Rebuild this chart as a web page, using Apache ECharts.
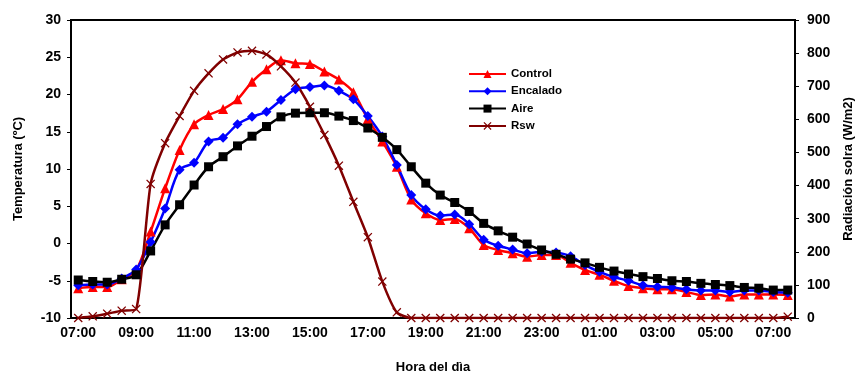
<!DOCTYPE html>
<html>
<head>
<meta charset="utf-8">
<script src="https://cdn.jsdelivr.net/npm/echarts@6/dist/echarts.min.js"></script>
<style>
  html, body { margin: 0; padding: 0; background: #fff; }
  #chart { width: 856px; height: 374px; }
</style>
</head>
<body>
<div id="chart"></div>
<script>
// horas cada 30 min, de 07:00 a 07:30 del día siguiente
var horas = ['07:00', '07:30', '08:00', '08:30', '09:00', '09:30', '10:00', '10:30', '11:00', '11:30',
  '12:00', '12:30', '13:00', '13:30', '14:00', '14:30', '15:00', '15:30', '16:00', '16:30',
  '17:00', '17:30', '18:00', '18:30', '19:00', '19:30', '20:00', '20:30', '21:00', '21:30',
  '22:00', '22:30', '23:00', '23:30', '00:00', '00:30', '01:00', '01:30', '02:00', '02:30',
  '03:00', '03:30', '04:00', '04:30', '05:00', '05:30', '06:00', '06:30', '07:00', '07:30'];

var control = [-6.0, -5.85, -5.85, -4.8, -3.6, 1.6, 7.4, 12.55, 16.0, 17.25,
  18.05, 19.35, 21.7, 23.4, 24.6, 24.2, 24.1, 23.1, 22.0, 20.3,
  16.7, 13.7, 10.3, 5.9, 4.05, 3.15, 3.3, 2.05, -0.2, -0.87,
  -1.3, -1.77, -1.55, -1.55, -2.6, -3.55, -4.2, -5.0, -5.7, -6.0,
  -6.15, -6.15, -6.5, -6.9, -6.85, -7.1, -6.85, -6.85, -6.85, -6.9];

var encalado = [-5.6, -5.5, -5.5, -4.7, -3.5, 0.2, 4.7, 9.9, 10.85, 13.7,
  14.2, 16.0, 17.0, 17.7, 19.26, 20.7, 21.0, 21.2, 20.5, 19.35,
  17.1, 14.35, 10.55, 6.5, 4.6, 3.75, 3.9, 2.6, 0.5, -0.3,
  -0.8, -1.3, -1.1, -1.2, -1.7, -2.9, -3.8, -4.5, -5.0, -5.6,
  -5.8, -5.9, -6.15, -6.3, -6.3, -6.5, -6.3, -6.3, -6.5, -6.6];

var aire = [-4.9, -5.1, -5.2, -4.8, -4.2, -1.0, 2.5, 5.2, 7.85, 10.3,
  11.65, 13.1, 14.4, 15.7, 17.0, 17.5, 17.55, 17.55, 17.1, 16.5,
  15.5, 14.25, 12.6, 10.3, 8.1, 6.5, 5.5, 4.3, 2.7, 1.7,
  0.85, -0.07, -0.87, -1.45, -2.1, -2.6, -3.2, -3.7, -4.1, -4.45,
  -4.7, -5.0, -5.1, -5.35, -5.5, -5.65, -5.9, -6.0, -6.25, -6.25];

var rsw = [0, 5, 13, 22, 27, 405, 528, 610, 686, 739,
  781, 802, 807, 796, 760, 711, 638, 553, 460, 351,
  244, 110, 17, 0, 0, 0, 0, 0, 0, 0,
  0, 0, 0, 0, 0, 0, 0, 0, 0, 0,
  0, 0, 0, 0, 0, 0, 0, 0, 0, 4];

var fuente = 'Arial, "Liberation Sans", sans-serif';
var cruz = 'path://M0,1L1,0L5,4L9,0L10,1L6,5L10,9L9,10L5,6L1,10L0,9L4,5Z';

var myChart = echarts.init(document.getElementById('chart'));

function serie(nombre, datos, color, simbolo, tam, eje, suave) {
  return {
    name: nombre,
    type: 'line',
    yAxisIndex: eje,
    data: datos,
    smooth: suave,
    symbol: simbolo,
    symbolSize: tam,
    showAllSymbol: true,
    lineStyle: { color: color, width: 2.5 },
    itemStyle: { color: color, borderColor: color, borderWidth: 0 }
  };
}

myChart.setOption({
  animation: false,
  backgroundColor: '#fff',
  grid: {
    left: 71, right: 61, top: 20, bottom: 56,
    outerBoundsMode: 'none',
    containLabel: false,
    show: true, borderColor: '#000', borderWidth: 2
  },
  legend: {
    orient: 'vertical',
    left: 463,
    top: 63,
    itemWidth: 37,
    itemHeight: 10,
    itemGap: 5.3,
    textStyle: { fontFamily: fuente, fontWeight: 'bold', fontSize: 11.5, color: '#000' },
    data: ['Control', 'Encalado', 'Aire', 'Rsw']
  },
  xAxis: {
    type: 'category',
    data: horas,
    boundaryGap: true,
    name: 'Hora del dìa',
    nameLocation: 'middle',
    nameGap: 43,
    nameTextStyle: { fontFamily: fuente, fontWeight: 'bold', fontSize: 13, color: '#000' },
    axisLine: { onZero: false, lineStyle: { color: '#000', width: 2 } },
    axisTick: { interval: 0, length: 4, lineStyle: { color: '#000' } },
    axisLabel: { interval: 3, margin: 8, fontFamily: fuente, fontWeight: 'bold', fontSize: 14, color: '#000' },
    splitLine: { show: false }
  },
  yAxis: [
    {
      type: 'value',
      min: -10, max: 30, interval: 5,
      name: 'Temperatura (ºC)',
      nameLocation: 'middle',
      nameRotate: 90,
      nameGap: 46,
      nameTextStyle: { fontFamily: fuente, fontWeight: 'bold', fontSize: 13, color: '#000' },
      axisLine: { show: true, lineStyle: { color: '#000', width: 2 } },
      axisTick: { show: true, length: 4, lineStyle: { color: '#000' } },
      axisLabel: { margin: 10, fontFamily: fuente, fontWeight: 'bold', fontSize: 14, color: '#000' },
      splitLine: { show: false }
    },
    {
      type: 'value',
      position: 'right',
      min: 0, max: 900, interval: 100,
      name: 'Radiación solra (W/m2)',
      nameLocation: 'middle',
      nameRotate: 90,
      nameGap: 47,
      nameTextStyle: { fontFamily: fuente, fontWeight: 'bold', fontSize: 13, color: '#000' },
      axisLine: { show: true, lineStyle: { color: '#000', width: 2 } },
      axisTick: { show: true, length: 4, lineStyle: { color: '#000' } },
      axisLabel: { margin: 12, fontFamily: fuente, fontWeight: 'bold', fontSize: 14, color: '#000' },
      splitLine: { show: false }
    }
  ],
  series: [
    serie('Control', control, '#ff0000', 'triangle', 10, 0, 0.3),
    serie('Encalado', encalado, '#0000ff', 'diamond', 10, 0, 0.3),
    serie('Aire', aire, '#000000', 'rect', 9, 0, 0.3),
    serie('Rsw', rsw, '#800000', cruz, 9, 1, 0.2)
  ]
});
</script>
</body>
</html>
